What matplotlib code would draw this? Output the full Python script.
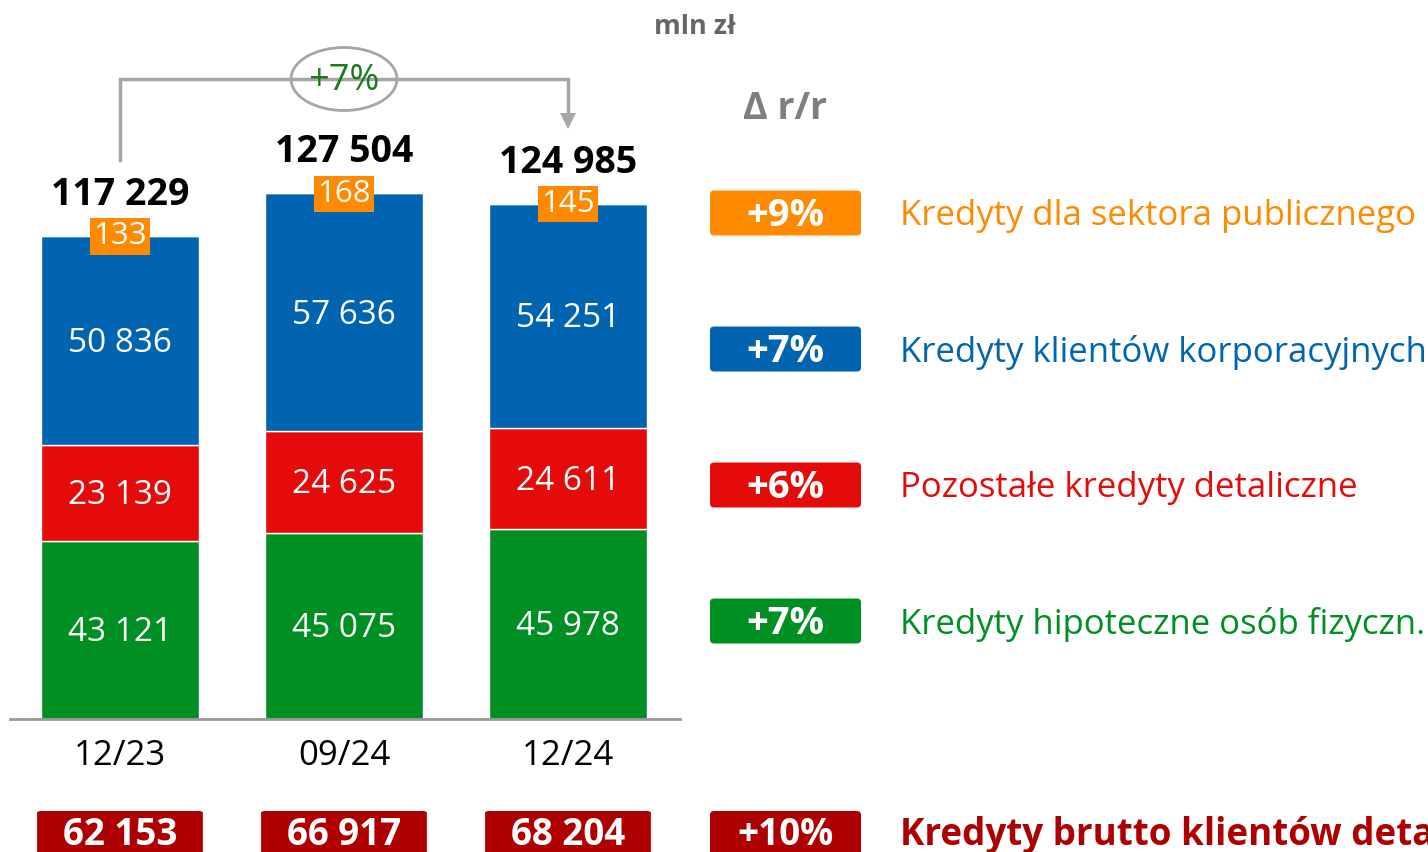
import matplotlib
matplotlib.use("Agg")
import matplotlib.pyplot as plt
from matplotlib.patches import FancyBboxPatch, Ellipse
from matplotlib.transforms import blended_transform_factory

plt.rcParams['font.family'] = ['Open Sans', 'DejaVu Sans']

# ---- data ----
categories = ['12/23', '09/24', '12/24']
hipoteczne = [43121, 45075, 45978]
pozostale = [23139, 24625, 24611]
korporacyjne = [50836, 57636, 54251]
publiczne = [133, 168, 145]
totals = [117229, 127504, 124985]
detal_brutto = [62153, 66917, 68204]
yoy_labels = ['+9%', '+7%', '+6%', '+7%']
series_names = ['Kredyty dla sektora publicznego',
                'Kredyty klientów korporacyjnych',
                'Pozostałe kredyty detaliczne',
                'Kredyty hipoteczne osób fizyczn.']
detal_yoy = '+10%'
detal_name = 'Kredyty brutto klientów detalicznych'
total_yoy = '+7%'

# ---- colours ----
C_GREEN = '#008F22'
C_RED = '#E60B0B'
C_BLUE = '#0064B0'
C_ORANGE = '#FF8A00'
C_DRED = '#AE0000'
C_GRAY = '#A6A6A6'
series_colors = [C_ORANGE, C_BLUE, C_RED, C_GREEN]

W, H = 1428, 852
fig = plt.figure(figsize=(W / 100, H / 100), dpi=100)

# overlay axes in pixel coordinates for decorations
ov = fig.add_axes([0, 0, 1, 1])
ov.set_xlim(0, W)
ov.set_ylim(H, 0)
ov.axis('off')

# bar axes: x 10..680 px, y baseline 719 px to top 0
px_per_unit = 484 / 117229
ax = fig.add_axes([10 / W, 1 - 719 / H, 670 / W, 719 / H])
ax.set_xlim(-0.491, 2.5)
ax.set_ylim(0, 719 / px_per_unit)
ax.patch.set_alpha(0)
for s in ['top', 'right', 'left']:
    ax.spines[s].set_visible(False)
ax.spines['bottom'].set_color('#999999')
ax.spines['bottom'].set_linewidth(2)
ax.set_xticks([])
ax.set_yticks([])

x = list(range(len(categories)))
bw = 0.705
bottom = [0] * 3
stack = [(hipoteczne, C_GREEN), (pozostale, C_RED), (korporacyjne, C_BLUE), (publiczne, C_ORANGE)]
for vals, col in stack:
    ax.bar(x, vals, bw, bottom=bottom, color=col, edgecolor='white', linewidth=1, zorder=2)
    if col != C_ORANGE:
        for i, v in enumerate(vals):
            ax.annotate(f"{v:,}".replace(',', ' '), (i, bottom[i] + v / 2), xytext=(0, -2),
                        textcoords='offset points', ha='center', va='center',
                        color='white', fontsize=24, zorder=3)
    bottom = [b + v for b, v in zip(bottom, vals)]

# orange small labels and totals
for i, t in enumerate(totals):
    ax.annotate(f"{publiczne[i]}", (i, t), xytext=(0, -1), textcoords='offset points',
                ha='center', va='center', color='white', fontsize=22.5,
                zorder=4, bbox=dict(boxstyle='square,pad=0.1', fc=C_ORANGE, ec='none'))
    ax.annotate(f"{t:,}".replace(',', ' '), (i, t), xytext=(0, 29), textcoords='offset points',
                ha='center', va='center', fontsize=27, fontweight='bold', color='black')

# category labels and bottom badges
bt = blended_transform_factory(ax.transData, ov.transData)
for i, c in enumerate(categories):
    ax.text(i, 756, c, transform=bt, ha='center', va='center', fontsize=25, color='black')
for i, v in enumerate(detal_brutto):
    bx = FancyBboxPatch((i - 0.37, 811), 0.74, 60, boxstyle='round,pad=0,rounding_size=0.02',
                        transform=bt, fc=C_DRED, ec='none', clip_on=False, mutation_aspect=100)
    ax.add_patch(bx)
    ax.text(i, 835, f"{v:,}".replace(',', ' '), transform=bt, ha='center', va='center',
            fontsize=26.5, fontweight='bold', color='white', clip_on=False)

# arrow connector
y_top = 79
ov.plot([120, 120, 568, 568], [160, y_top, y_top, 118], color=C_GRAY, lw=2.5, solid_joinstyle='miter')
ov.fill([560, 576, 568], [113, 113, 129], color=C_GRAY, lw=0)
ov.add_patch(Ellipse((344, y_top), 106, 63, fc='white', ec=C_GRAY, lw=2))
ov.text(344, y_top + 2, total_yoy, ha='center', va='center', fontsize=26, color='#1C7A1C')

# headers
ov.text(695, 27, 'mln zł', ha='center', va='center', fontsize=19.5, fontweight='bold', color='#666666')
ov.text(785, 109, 'Δ r/r', ha='center', va='center', fontsize=27, fontweight='bold', color='#7F7F7F')

# right legend
ys = [213, 349, 485, 621]
for yc, lab, name, col in zip(ys, yoy_labels, series_names, series_colors):
    ov.add_patch(FancyBboxPatch((710, yc - 22.5), 151, 45, boxstyle='round,pad=0,rounding_size=4',
                                fc=col, ec='none'))
    ov.text(785.5, yc + 3, lab, ha='center', va='center', fontsize=27.5, fontweight='bold', color='white')
    ov.text(900, yc + 3, name, ha='left', va='center', fontsize=25, color=col)

ov.add_patch(FancyBboxPatch((710, 811), 151, 60, boxstyle='round,pad=0,rounding_size=4',
                            fc=C_DRED, ec='none'))
ov.text(785.5, 835, detal_yoy, ha='center', va='center', fontsize=26.5, fontweight='bold', color='white')
ov.text(900, 835, detal_name, ha='left', va='center', fontsize=26.5, fontweight='bold', color=C_DRED)

fig.savefig('out.png', dpi=100)
